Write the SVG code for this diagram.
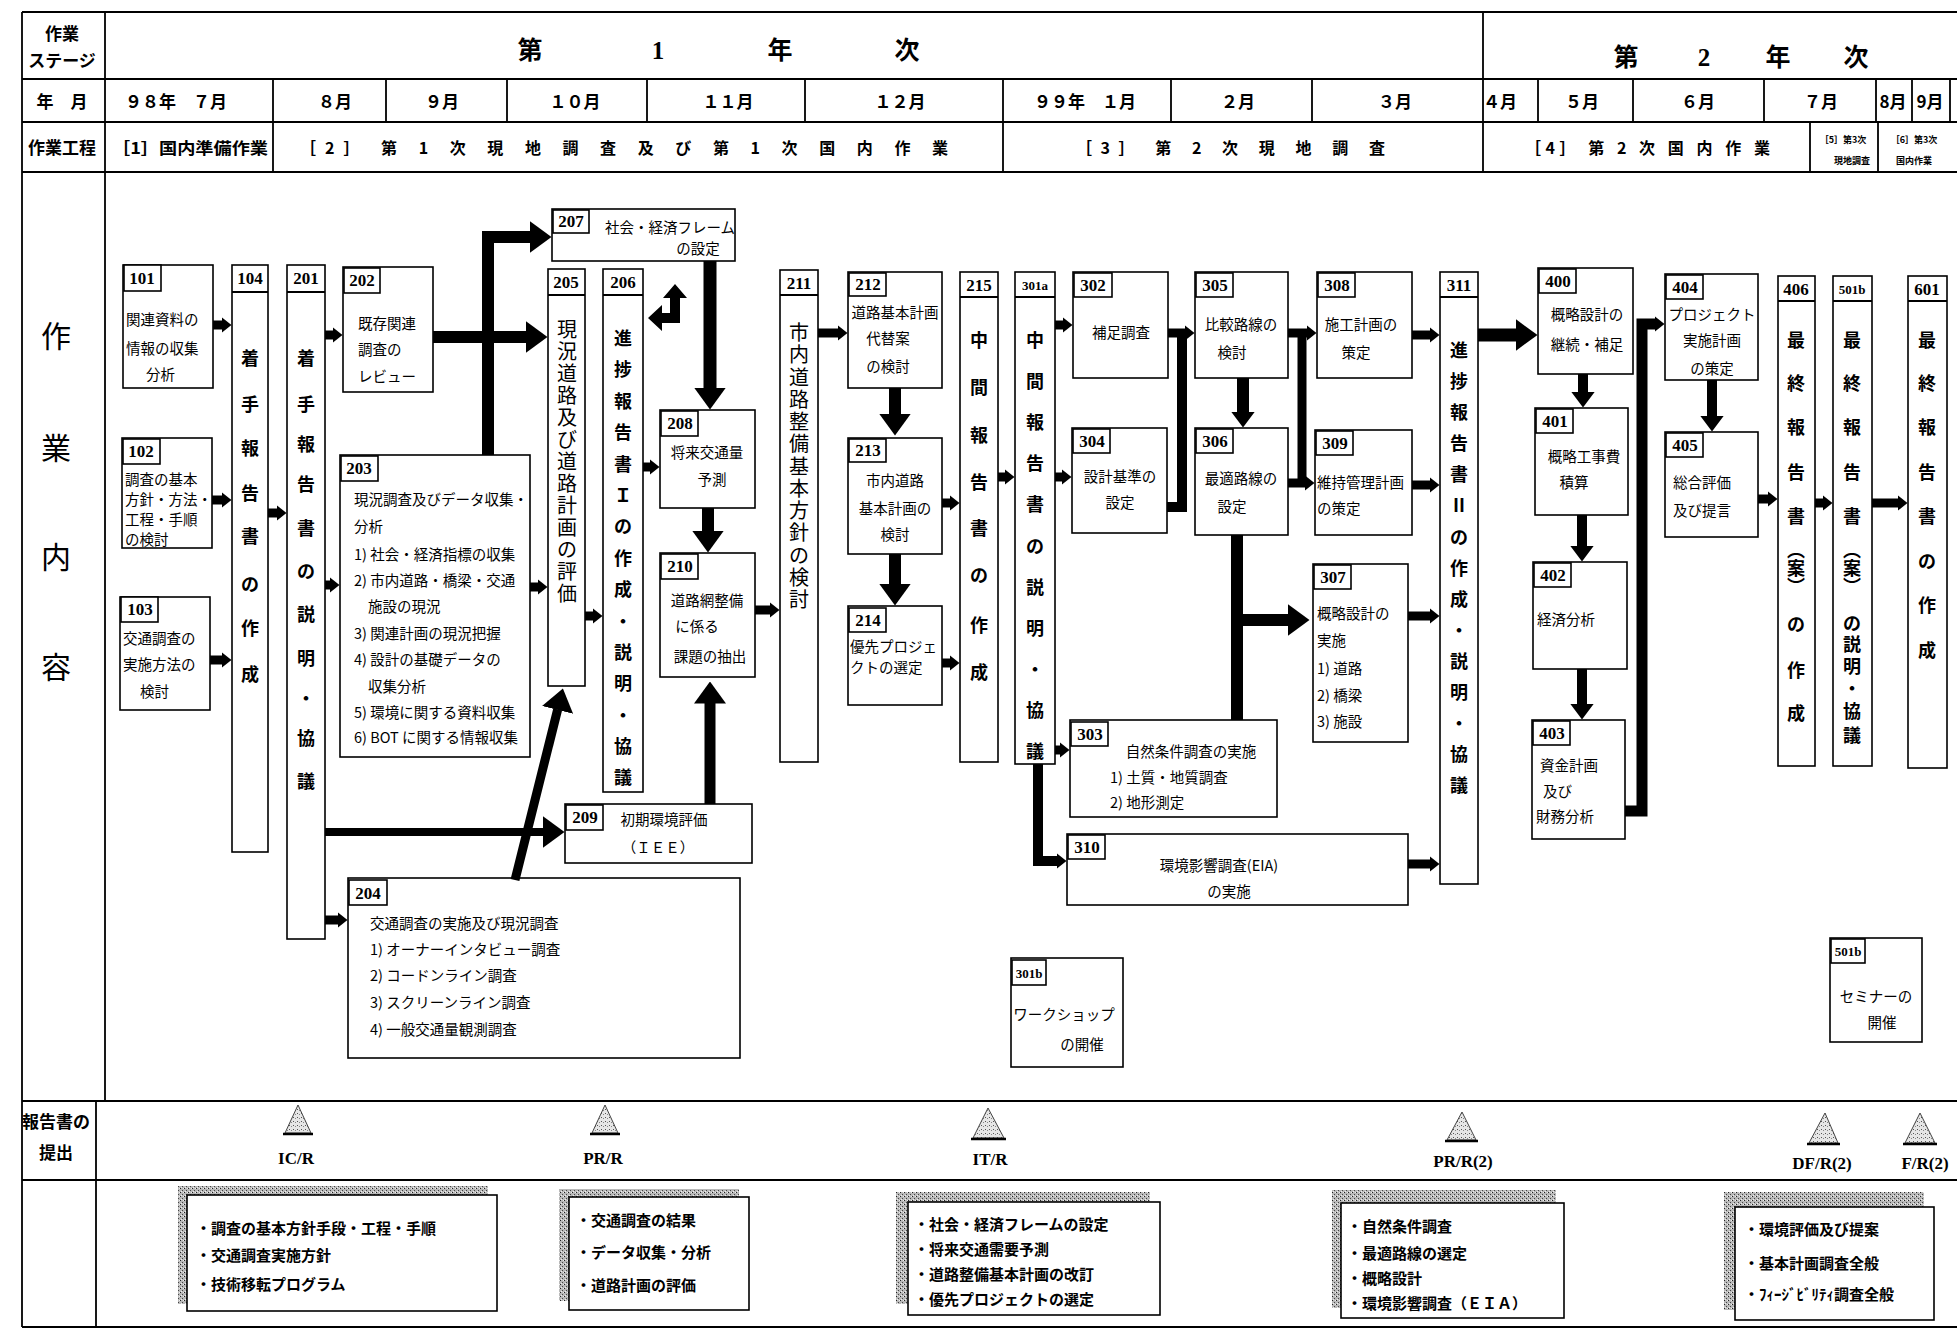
<svg xmlns="http://www.w3.org/2000/svg" width="1957" height="1330" viewBox="0 0 1957 1330">
<defs>
<style>
text{font-family:"Noto Sans CJK JP","Noto Sans",sans-serif;fill:#000}
.b{fill:#fff;stroke:#000;stroke-width:1.6}
.fr{fill:none;stroke:#000;stroke-width:1.8}
.n{font-family:"Liberation Serif","Noto Sans CJK JP",serif;font-weight:bold;font-size:17px;text-anchor:middle}
.ns{font-family:"Liberation Serif","Noto Sans CJK JP",serif;font-weight:bold;font-size:13px;text-anchor:middle}
.t{font-size:14.5px;dominant-baseline:central}
.tc{font-size:14.5px;dominant-baseline:central;text-anchor:middle}
.v{font-size:18px;font-weight:bold;text-anchor:middle;dominant-baseline:central}
.vn{font-size:20px;text-anchor:middle;dominant-baseline:central}
.h{font-weight:bold;font-size:17px;text-anchor:middle;dominant-baseline:central}
.h3{font-weight:bold;font-size:16px;dominant-baseline:central}
.hs{font-weight:bold;font-size:9px;text-anchor:middle;dominant-baseline:central}
.ti{font-family:"Liberation Serif","Noto Sans CJK JP",serif;font-weight:bold;font-size:25px;text-anchor:middle;dominant-baseline:central}
.big{font-size:30px;text-anchor:middle;dominant-baseline:central}
.rl{font-family:"Liberation Serif",serif;font-weight:bold;font-size:17px;text-anchor:middle;dominant-baseline:central}
.bt{font-size:15px;font-weight:bold;dominant-baseline:central}
.tri{fill:url(#dots);stroke:#444;stroke-width:1}
.sh{fill:url(#noise);stroke:none}
.c path{fill:none;stroke:#000;stroke-linejoin:miter}
</style>
<pattern id="noise" width="4" height="4" patternUnits="userSpaceOnUse">
<rect width="4" height="4" fill="#b8b8b8"/><rect x="0" y="0" width="1" height="1" fill="#222"/><rect x="2" y="2" width="1" height="1" fill="#444"/><rect x="3" y="0" width="1" height="1" fill="#eee"/><rect x="1" y="3" width="1" height="1" fill="#eee"/>
</pattern>
<pattern id="dots" width="4" height="4" patternUnits="userSpaceOnUse">
<rect width="4" height="4" fill="#e6e6e6"/><rect x="1" y="1" width="1" height="1" fill="#555"/><rect x="3" y="2" width="1" height="1" fill="#888"/>
</pattern>
<marker id="s" markerUnits="userSpaceOnUse" markerWidth="10" markerHeight="16" viewBox="0 0 10 16" refX="0.5" refY="8" orient="auto"><path d="M0,0L10,8L0,16z" fill="#000" stroke="none"/></marker>
<marker id="m" markerUnits="userSpaceOnUse" markerWidth="16" markerHeight="24" viewBox="0 0 16 24" refX="0.5" refY="12" orient="auto"><path d="M0,0L16,12L0,24z" fill="#000" stroke="none"/></marker>
<marker id="l" markerUnits="userSpaceOnUse" markerWidth="22" markerHeight="32" viewBox="0 0 22 32" refX="0.5" refY="16" orient="auto"><path d="M0,0L22,16L0,32z" fill="#000" stroke="none"/></marker>
</defs>
<rect width="1957" height="1330" fill="#fff"/>

<g id="frame">
<path class="fr" d="M22,12H1957M22,79H1957M22,122H1957M22,172H1957M22,1101H1957M22,1180H1957M22,1327H1957M22,12V1327M105,12V1101M96,1101V1327M1483,12V172"/>
<path class="fr" d="M273,79V172M386,79V122M507,79V122M647,79V122M805,79V122M1003,79V172M1171,79V122M1312,79V122M1538,79V122M1633,79V122M1764,79V122M1876,79V122M1912,79V122M1950,79V122M1810,122V172M1878,122V172"/>
</g>

<g id="header">
<text class="h" x="62" y="32" font-size="15">作業</text>
<text class="h" x="62" y="59" font-size="15">ステージ</text>
<text class="h" x="62" y="100">年　月</text>
<text class="h" x="62" y="146" font-size="16">作業工程</text>
<text class="ti" x="530" y="50">第</text><text class="ti" x="658" y="50">1</text><text class="ti" x="780" y="50">年</text><text class="ti" x="907" y="50">次</text>
<text class="ti" x="1626" y="57">第</text><text class="ti" x="1704" y="57">2</text><text class="ti" x="1778" y="57">年</text><text class="ti" x="1856" y="57">次</text>
<text class="h" x="176" y="100">９８年　７月</text>
<text class="h" x="335" y="100">８月</text>
<text class="h" x="442" y="100">９月</text>
<text class="h" x="575" y="100">１０月</text>
<text class="h" x="728" y="100">１１月</text>
<text class="h" x="900" y="100">１２月</text>
<text class="h" x="1085" y="100">９９年　１月</text>
<text class="h" x="1238" y="100">２月</text>
<text class="h" x="1395" y="100">３月</text>
<text class="h" x="1500" y="100">４月</text>
<text class="h" x="1582" y="100">５月</text>
<text class="h" x="1698" y="100">６月</text>
<text class="h" x="1821" y="100">７月</text>
<text class="h" x="1893" y="100">8月</text>
<text class="h" x="1930" y="100">9月</text>
<text class="h3" x="112" y="147" textLength="156" lengthAdjust="spacingAndGlyphs">［1］国内準備作業</text>
<text class="h3" x="300" y="147" textLength="648" lengthAdjust="spacing">［2］ 第 1 次 現 地 調 査 及 び 第 1 次 国 内 作 業</text>
<text class="h3" x="1076" y="147" textLength="309" lengthAdjust="spacing">［3］ 第 2 次 現 地 調 査</text>
<text class="h3" x="1525" y="147" textLength="245" lengthAdjust="spacing">［4］ 第 2 次 国 内 作 業</text>
<text class="hs" x="1843" y="139">［5］第3次</text>
<text class="hs" x="1852" y="160">現地調査</text>
<text class="hs" x="1914" y="139">［6］第3次</text>
<text class="hs" x="1914" y="160">国内作業</text>
<text class="big" x="56" y="334">作</text>
<text class="big" x="56" y="446">業</text>
<text class="big" x="56" y="555">内</text>
<text class="big" x="56" y="665">容</text>
</g>

<g id="n101"><rect class="b" x="123" y="265" width="90" height="123"/><rect class="b" x="124" y="265" width="37" height="26"/><text class="n" x="142" y="284">101</text>
<text class="t" x="126" y="318">関連資料の</text><text class="t" x="126" y="347">情報の収集</text><text class="t" x="146" y="373">分析</text></g>
<g id="n102"><rect class="b" x="122" y="438" width="90" height="110"/><rect class="b" x="123" y="439" width="37" height="25"/><text class="n" x="141" y="457">102</text>
<text class="t" x="125" y="478" font-size="13">調査の基本</text><text class="t" x="125" y="498" font-size="13">方針・方法・</text><text class="t" x="125" y="518" font-size="13">工程・手順</text><text class="t" x="125" y="538" font-size="13">の検討</text></g>
<g id="n103"><rect class="b" x="120" y="597" width="90" height="113"/><rect class="b" x="121" y="597" width="37" height="25"/><text class="n" x="140" y="615">103</text>
<text class="t" x="123" y="637">交通調査の</text><text class="t" x="123" y="663">実施方法の</text><text class="t" x="140" y="690">検討</text></g>
<g id="n104"><rect class="b" x="232" y="265" width="36" height="587"/><path class="fr" d="M232,292H268"/><text class="n" x="250" y="284">104</text>
<text class="v" x="250 250 250 250 250 250 250 250" y="357 403 447 492 535 583 627 673">着手報告書の作成</text></g>
<g id="n201"><rect class="b" x="287" y="265" width="38" height="674"/><path class="fr" d="M287,292H325"/><text class="n" x="306" y="284">201</text>
<text class="v" x="306 306 306 306 306 306 306 306 306 306 306" y="357 403 443 483 527 570 613 657 697 737 780">着手報告書の説明・協議</text></g>
<g id="n202"><rect class="b" x="343" y="267" width="90" height="125"/><rect class="b" x="344" y="268" width="36" height="25"/><text class="n" x="362" y="286">202</text>
<text class="t" x="358" y="322">既存関連</text><text class="t" x="358" y="348">調査の</text><text class="t" x="358" y="375">レビュー</text></g>
<g id="n203"><rect class="b" x="340" y="455" width="190" height="302"/><rect class="b" x="341" y="456" width="37" height="25"/><text class="n" x="359" y="474">203</text>
<text class="t" x="354" y="498" font-size="14">現況調査及びデータ収集・</text>
<text class="t" x="354" y="525" font-size="14">分析</text>
<text class="t" x="354" y="553" font-size="14">1) 社会・経済指標の収集</text>
<text class="t" x="354" y="579" font-size="14">2) 市内道路・橋梁・交通</text>
<text class="t" x="368" y="605" font-size="14">施設の現況</text>
<text class="t" x="354" y="632" font-size="14">3) 関連計画の現況把握</text>
<text class="t" x="354" y="658" font-size="14">4) 設計の基礎データの</text>
<text class="t" x="368" y="685" font-size="14">収集分析</text>
<text class="t" x="354" y="711" font-size="14">5) 環境に関する資料収集</text>
<text class="t" x="354" y="736" font-size="14">6) BOT に関する情報収集</text></g>
<g id="n204"><rect class="b" x="348" y="878" width="392" height="180"/><rect class="b" x="349" y="880" width="38" height="25"/><text class="n" x="368" y="899">204</text>
<text class="t" x="370" y="922">交通調査の実施及び現況調査</text>
<text class="t" x="370" y="948">1) オーナーインタビュー調査</text>
<text class="t" x="370" y="974">2) コードンライン調査</text>
<text class="t" x="370" y="1001">3) スクリーンライン調査</text>
<text class="t" x="370" y="1028">4) 一般交通量観測調査</text></g>
<g id="n205"><rect class="b" x="548" y="269" width="37" height="417"/><path class="fr" d="M548,295H585"/><text class="n" x="566" y="288">205</text>
<text class="vn" x="567 567 567 567 567 567 567 567 567 567 567 567 567" y="328 350 372 394 416 438 460 482 504 526 548 570 592">現況道路及び道路計画の評価</text></g>
<g id="n206"><rect class="b" x="603" y="269" width="40" height="523"/><path class="fr" d="M603,295H643"/><text class="n" x="623" y="288">206</text>
<text class="v" x="623 623 623 623 623 623 623 623 623 623 623 623 623 623 623" y="337 368 400 431 463 494 525 557 588 620 651 682 714 745 776">進捗報告書Ｉの作成・説明・協議</text></g>
<g id="n207"><rect class="b" x="552" y="209" width="183" height="52"/><rect class="b" x="553" y="210" width="36" height="23"/><text class="n" x="571" y="227">207</text>
<text class="tc" x="670" y="226" font-size="13">社会・経済フレーム</text><text class="tc" x="698" y="247" font-size="13">の設定</text></g>
<g id="n208"><rect class="b" x="660" y="410" width="95" height="98"/><rect class="b" x="661" y="411" width="37" height="25"/><text class="n" x="680" y="429">208</text>
<text class="tc" x="707" y="451">将来交通量</text><text class="tc" x="712" y="478">予測</text></g>
<g id="n209"><rect class="b" x="565" y="804" width="187" height="59"/><rect class="b" x="566" y="805" width="37" height="25"/><text class="n" x="585" y="823">209</text>
<text class="tc" x="664" y="818">初期環境評価</text><text class="tc" x="658" y="846">（ＩＥＥ）</text></g>
<g id="n210"><rect class="b" x="660" y="553" width="95" height="124"/><rect class="b" x="661" y="554" width="37" height="25"/><text class="n" x="680" y="572">210</text>
<text class="tc" x="707" y="599">道路網整備</text><text class="tc" x="697" y="625">に係る</text><text class="tc" x="710" y="655">課題の抽出</text></g>
<g id="n211"><rect class="b" x="780" y="270" width="38" height="492"/><path class="fr" d="M780,295H818"/><text class="n" x="799" y="289">211</text>
<text class="vn" x="799 799 799 799 799 799 799 799 799 799 799 799 799" y="331 353 376 398 420 442 465 487 509 531 554 576 598">市内道路整備基本方針の検討</text></g>
<g id="n212"><rect class="b" x="848" y="272" width="94" height="116"/><rect class="b" x="849" y="273" width="37" height="23"/><text class="n" x="868" y="290">212</text>
<text class="tc" x="895" y="311">道路基本計画</text><text class="tc" x="888" y="337">代替案</text><text class="tc" x="888" y="365">の検討</text></g>
<g id="n213"><rect class="b" x="848" y="438" width="94" height="116"/><rect class="b" x="849" y="439" width="37" height="23"/><text class="n" x="868" y="456">213</text>
<text class="tc" x="895" y="479">市内道路</text><text class="tc" x="895" y="507">基本計画の</text><text class="tc" x="895" y="533">検討</text></g>
<g id="n214"><rect class="b" x="848" y="606" width="94" height="99"/><rect class="b" x="849" y="608" width="37" height="24"/><text class="n" x="868" y="626">214</text>
<text class="t" x="850" y="645" font-size="13.5">優先プロジェ</text><text class="t" x="850" y="666" font-size="13.5">クトの選定</text></g>
<g id="n215"><rect class="b" x="960" y="272" width="38" height="490"/><path class="fr" d="M960,297H998"/><text class="n" x="979" y="291">215</text>
<text class="v" x="979 979 979 979 979 979 979 979" y="339 386 434 481 527 574 624 671">中間報告書の作成</text></g>
<g id="n301a"><rect class="b" x="1015" y="272" width="40" height="492"/><path class="fr" d="M1015,297H1055"/><text class="ns" x="1035" y="290">301a</text>
<text class="v" x="1035 1035 1035 1035 1035 1035 1035 1035 1035 1035 1035" y="339 380 421 462 503 545 586 627 668 709 750">中間報告書の説明・協議</text></g>
<g id="n301b"><rect class="b" x="1011" y="958" width="112" height="109"/><rect class="b" x="1012" y="960" width="34" height="25"/><text class="ns" x="1029" y="978">301b</text>
<text class="tc" x="1064" y="1013">ワークショップ</text><text class="tc" x="1082" y="1043">の開催</text></g>
<g id="n302"><rect class="b" x="1073" y="272" width="95" height="106"/><rect class="b" x="1074" y="273" width="38" height="24"/><text class="n" x="1093" y="291">302</text>
<text class="tc" x="1121" y="331">補足調査</text></g>
<g id="n303"><rect class="b" x="1070" y="720" width="207" height="97"/><rect class="b" x="1071" y="722" width="37" height="24"/><text class="n" x="1090" y="740">303</text>
<text class="tc" x="1191" y="750">自然条件調査の実施</text><text class="t" x="1110" y="776">1) 土質・地質調査</text><text class="t" x="1110" y="801">2) 地形測定</text></g>
<g id="n304"><rect class="b" x="1072" y="428" width="95" height="105"/><rect class="b" x="1073" y="429" width="37" height="24"/><text class="n" x="1092" y="447">304</text>
<text class="tc" x="1120" y="475">設計基準の</text><text class="tc" x="1120" y="501">設定</text></g>
<g id="n305"><rect class="b" x="1195" y="272" width="93" height="106"/><rect class="b" x="1196" y="273" width="37" height="24"/><text class="n" x="1215" y="291">305</text>
<text class="tc" x="1241" y="323">比較路線の</text><text class="tc" x="1232" y="351">検討</text></g>
<g id="n306"><rect class="b" x="1195" y="428" width="93" height="107"/><rect class="b" x="1196" y="429" width="37" height="24"/><text class="n" x="1215" y="447">306</text>
<text class="tc" x="1241" y="477">最適路線の</text><text class="tc" x="1232" y="505">設定</text></g>
<g id="n307"><rect class="b" x="1313" y="564" width="95" height="178"/><rect class="b" x="1314" y="565" width="37" height="24"/><text class="n" x="1333" y="583">307</text>
<text class="t" x="1317" y="612">概略設計の</text><text class="t" x="1317" y="639">実施</text><text class="t" x="1317" y="667">1) 道路</text><text class="t" x="1317" y="694">2) 橋梁</text><text class="t" x="1317" y="720">3) 施設</text></g>
<g id="n308"><rect class="b" x="1317" y="272" width="95" height="106"/><rect class="b" x="1318" y="273" width="37" height="24"/><text class="n" x="1337" y="291">308</text>
<text class="tc" x="1361" y="323">施工計画の</text><text class="tc" x="1356" y="351">策定</text></g>
<g id="n309"><rect class="b" x="1315" y="430" width="97" height="105"/><rect class="b" x="1316" y="431" width="37" height="24"/><text class="n" x="1335" y="449">309</text>
<text class="t" x="1317" y="481">維持管理計画</text><text class="t" x="1317" y="507">の策定</text></g>
<g id="n310"><rect class="b" x="1067" y="834" width="341" height="71"/><rect class="b" x="1068" y="835" width="37" height="24"/><text class="n" x="1087" y="853">310</text>
<text class="tc" x="1219" y="864">環境影響調査(EIA)</text><text class="tc" x="1229" y="890">の実施</text></g>
<g id="n311"><rect class="b" x="1440" y="272" width="38" height="612"/><path class="fr" d="M1440,297H1478"/><text class="n" x="1459" y="291">311</text>
<text class="v" x="1459 1459 1459 1459 1459 1459 1459 1459 1459 1459 1459 1459 1459 1459 1459" y="349 380 411 442 473 504 536 567 598 629 660 691 722 753 784">進捗報告書Ⅱの作成・説明・協議</text></g>
<g id="n400"><rect class="b" x="1538" y="268" width="95" height="106"/><rect class="b" x="1539" y="269" width="37" height="24"/><text class="n" x="1558" y="287">400</text>
<text class="tc" x="1587" y="313">概略設計の</text><text class="tc" x="1587" y="343">継続・補足</text></g>
<g id="n401"><rect class="b" x="1535" y="408" width="93" height="107"/><rect class="b" x="1536" y="409" width="37" height="24"/><text class="n" x="1555" y="427">401</text>
<text class="tc" x="1584" y="455">概略工事費</text><text class="tc" x="1574" y="481">積算</text></g>
<g id="n402"><rect class="b" x="1533" y="562" width="94" height="107"/><rect class="b" x="1534" y="563" width="37" height="24"/><text class="n" x="1553" y="581">402</text>
<text class="t" x="1537" y="618">経済分析</text></g>
<g id="n403"><rect class="b" x="1532" y="720" width="93" height="119"/><rect class="b" x="1533" y="721" width="37" height="24"/><text class="n" x="1552" y="739">403</text>
<text class="tc" x="1569" y="764">資金計画</text><text class="t" x="1543" y="790">及び</text><text class="t" x="1536" y="815">財務分析</text></g>
<g id="n404"><rect class="b" x="1665" y="274" width="93" height="106"/><rect class="b" x="1666" y="275" width="37" height="24"/><text class="n" x="1685" y="293">404</text>
<text class="tc" x="1712" y="313">プロジェクト</text><text class="tc" x="1712" y="339">実施計画</text><text class="tc" x="1712" y="367">の策定</text></g>
<g id="n405"><rect class="b" x="1665" y="432" width="93" height="105"/><rect class="b" x="1666" y="433" width="37" height="24"/><text class="n" x="1685" y="451">405</text>
<text class="t" x="1673" y="481">総合評価</text><text class="t" x="1673" y="509">及び提言</text></g>
<g id="n406"><rect class="b" x="1778" y="276" width="37" height="490"/><path class="fr" d="M1778,301H1815"/><text class="n" x="1796" y="295">406</text>
<text class="v" x="1796 1796 1796 1796 1796 1796 1796 1796 1796 1796 1796" y="339 382 426 471 515 549 567 585 623 669 712">最終報告書︵案︶の作成</text></g>
<g id="n501b"><rect class="b" x="1833" y="276" width="39" height="490"/><path class="fr" d="M1833,301H1872"/><text class="ns" x="1852" y="294">501b</text>
<text class="v" x="1852 1852 1852 1852 1852 1852 1852 1852 1852 1852 1852 1852 1852 1852" y="339 382 426 471 515 549 567 585 622 643 665 687 710 734">最終報告書︵案︶の説明・協議</text></g>
<g id="n601"><rect class="b" x="1908" y="276" width="39" height="492"/><path class="fr" d="M1908,301H1947"/><text class="n" x="1927" y="295">601</text>
<text class="v" x="1927 1927 1927 1927 1927 1927 1927 1927" y="339 382 426 471 515 560 604 649">最終報告書の作成</text></g>
<g id="n501b-seminar"><rect class="b" x="1830" y="938" width="92" height="104"/><rect class="b" x="1831" y="939" width="34" height="24"/><text class="ns" x="1848" y="956">501b</text>
<text class="tc" x="1876" y="995">セミナーの</text><text class="tc" x="1882" y="1021">開催</text></g>

<g id="connectors" class="c">
<path d="M213,325H222" stroke-width="9" marker-end="url(#s)"/>
<path d="M212,500H222" stroke-width="9" marker-end="url(#s)"/>
<path d="M210,660H222" stroke-width="9" marker-end="url(#s)"/>
<path d="M268,513H277" stroke-width="9" marker-end="url(#s)"/>
<path d="M325,335H333" stroke-width="9" marker-end="url(#s)"/>
<path d="M325,585H330" stroke-width="9" marker-end="url(#s)"/>
<path d="M325,832H543" stroke-width="8" marker-end="url(#l)"/>
<path d="M325,920H338" stroke-width="9" marker-end="url(#s)"/>
<path d="M433,337H526" stroke-width="12" marker-end="url(#l)"/>
<path d="M530,587H538" stroke-width="9" marker-end="url(#s)"/>
<path d="M488,455V237H530" stroke-width="12" marker-end="url(#l)"/>
<path d="M515,880L557.7,709.3" stroke-width="9" marker-end="url(#l)"/>
<path d="M585,616H593" stroke-width="9" marker-end="url(#s)"/>
<path d="M643,467H650" stroke-width="9" marker-end="url(#s)"/>
<path d="M710,261V388" stroke-width="13" marker-end="url(#l)"/>
<path d="M708,508V531" stroke-width="12" marker-end="url(#l)"/>
<path d="M710,804V703" stroke-width="11" marker-end="url(#l)"/>
<path d="M755,610H770" stroke-width="9" marker-end="url(#s)"/>
<polygon points="675,284 687,298 680,298 680,323 662,323 662,331 648,318 662,305 662,313 670,313 670,298 663,298" fill="#000"/>
<path d="M818,333H838" stroke-width="9" marker-end="url(#s)"/>
<path d="M895,388V414" stroke-width="12" marker-end="url(#l)"/>
<path d="M895,554V584" stroke-width="12" marker-end="url(#l)"/>
<path d="M942,503H950" stroke-width="9" marker-end="url(#s)"/>
<path d="M942,663H950" stroke-width="9" marker-end="url(#s)"/>
<path d="M998,477H1005" stroke-width="9" marker-end="url(#s)"/>
<path d="M1055,325H1063" stroke-width="9" marker-end="url(#s)"/>
<path d="M1055,477H1062" stroke-width="9" marker-end="url(#s)"/>
<path d="M1055,750H1060" stroke-width="9" marker-end="url(#s)"/>
<path d="M1038,764V861H1057" stroke-width="10" marker-end="url(#s)"/>
<path d="M1168,333H1185" stroke-width="9" marker-end="url(#s)"/>
<path d="M1167,507H1182V333" stroke-width="10"/>
<path d="M1243,378V412" stroke-width="12" marker-end="url(#m)"/>
<path d="M1237,535V720" stroke-width="12"/>
<path d="M1237,620H1288" stroke-width="12" marker-end="url(#l)"/>
<path d="M1288,333H1307" stroke-width="9" marker-end="url(#s)"/>
<path d="M1288,483H1305" stroke-width="9" marker-end="url(#s)"/>
<path d="M1302,333V483" stroke-width="9"/>
<path d="M1412,335H1430" stroke-width="9" marker-end="url(#s)"/>
<path d="M1412,485H1430" stroke-width="9" marker-end="url(#s)"/>
<path d="M1408,616H1430" stroke-width="9" marker-end="url(#s)"/>
<path d="M1408,864H1430" stroke-width="9" marker-end="url(#s)"/>
<path d="M1478,335H1516" stroke-width="13" marker-end="url(#l)"/>
<path d="M1583,374V392" stroke-width="10" marker-end="url(#m)"/>
<path d="M1582,515V546" stroke-width="10" marker-end="url(#m)"/>
<path d="M1582,669V704" stroke-width="10" marker-end="url(#m)"/>
<path d="M1625,811H1642V324H1655" stroke-width="11" marker-end="url(#s)"/>
<path d="M1712,380V416" stroke-width="10" marker-end="url(#m)"/>
<path d="M1758,499H1768" stroke-width="9" marker-end="url(#s)"/>
<path d="M1815,503H1823" stroke-width="9" marker-end="url(#s)"/>
<path d="M1872,503H1898" stroke-width="9" marker-end="url(#s)"/>
</g>

<g id="reports">
<text class="h" x="56" y="1120" font-size="15">報告書の</text>
<text class="h" x="56" y="1151" font-size="15">提出</text>
<polygon class="tri" points="298,1105 311,1133 285,1133"/><path d="M283,1134H313" stroke="#000" stroke-width="2.5"/>
<text class="rl" x="296" y="1158">IC/R</text>
<polygon class="tri" points="605,1105 618,1133 592,1133"/><path d="M590,1134H620" stroke="#000" stroke-width="2.5"/>
<text class="rl" x="603" y="1158">PR/R</text>
<polygon class="tri" points="988,1108 1004,1138 973,1138"/><path d="M971,1139H1006" stroke="#000" stroke-width="2.5"/>
<text class="rl" x="990" y="1159">IT/R</text>
<polygon class="tri" points="1462,1112 1476,1140 1447,1140"/><path d="M1445,1141H1478" stroke="#000" stroke-width="2.5"/>
<text class="rl" x="1463" y="1161">PR/R(2)</text>
<polygon class="tri" points="1825,1113 1838,1143 1809,1143"/><path d="M1807,1144H1840" stroke="#000" stroke-width="2.5"/>
<text class="rl" x="1822" y="1163">DF/R(2)</text>
<polygon class="tri" points="1920,1113 1935,1143 1905,1143"/><path d="M1903,1144H1937" stroke="#000" stroke-width="2.5"/>
<text class="rl" x="1925" y="1163">F/R(2)</text>
</g>

<g id="summary1"><rect class="sh" x="178" y="1186" width="310" height="118"/><rect class="b" x="187" y="1195" width="310" height="116"/>
<text class="bt" x="196" y="1227">・調査の基本方針手段・工程・手順</text><text class="bt" x="196" y="1254">・交通調査実施方針</text><text class="bt" x="196" y="1283">・技術移転プログラム</text></g>
<g id="summary2"><rect class="sh" x="559" y="1189" width="180" height="112"/><rect class="b" x="569" y="1197" width="180" height="113"/>
<text class="bt" x="576" y="1219">・交通調査の結果</text><text class="bt" x="576" y="1251">・データ収集・分析</text><text class="bt" x="576" y="1284">・道路計画の評価</text></g>
<g id="summary3"><rect class="sh" x="896" y="1192" width="254" height="112"/><rect class="b" x="908" y="1202" width="252" height="113"/>
<text class="bt" x="914" y="1223">・社会・経済フレームの設定</text><text class="bt" x="914" y="1248">・将来交通需要予測</text><text class="bt" x="914" y="1273">・道路整備基本計画の改訂</text><text class="bt" x="914" y="1298">・優先プロジェクトの選定</text></g>
<g id="summary4"><rect class="sh" x="1332" y="1190" width="224" height="118"/><rect class="b" x="1341" y="1203" width="223" height="115"/>
<text class="bt" x="1347" y="1225">・自然条件調査</text><text class="bt" x="1347" y="1252">・最適路線の選定</text><text class="bt" x="1347" y="1277">・概略設計</text><text class="bt" x="1347" y="1302">・環境影響調査（ＥＩＡ）</text></g>
<g id="summary5"><rect class="sh" x="1724" y="1192" width="200" height="118"/><rect class="b" x="1735" y="1207" width="199" height="113"/>
<text class="bt" x="1744" y="1228">・環境評価及び提案</text><text class="bt" x="1744" y="1262">・基本計画調査全般</text><text class="bt" x="1744" y="1293">・ﾌｨｰｼﾞﾋﾞﾘﾃｨ調査全般</text></g>
</svg>
